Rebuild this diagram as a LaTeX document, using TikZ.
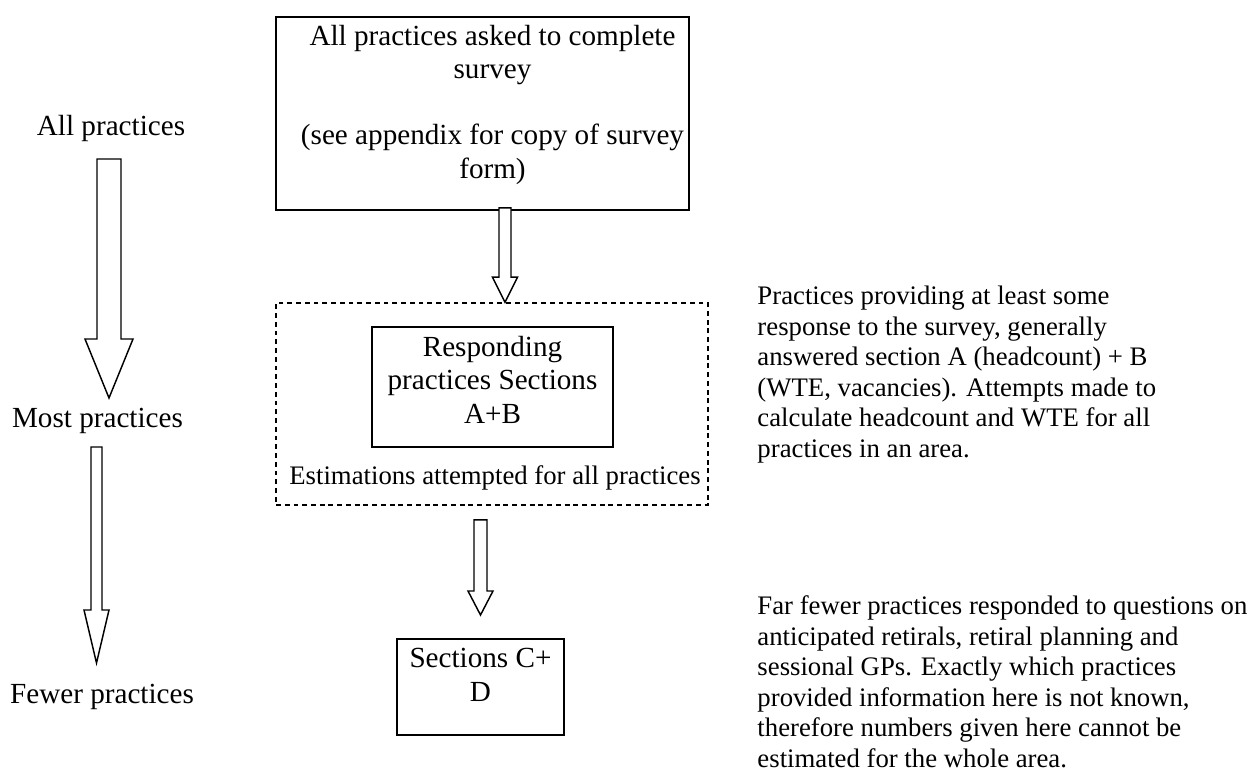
\documentclass[tikz,border=0pt]{standalone}
\usepackage{fontspec}
\setmainfont{Liberation Serif}
\usetikzlibrary{calc}
\tikzset{
  boxline/.style={draw, line width=0.8pt, inner sep=0pt},
  dashline/.style={draw, line width=0.7pt, dash pattern=on 2pt off 1.6pt, inner sep=0pt},
  sz/.style 2 args={minimum width=#1*0.4115pt, minimum height=#2*0.4115pt},
  boxtext/.style={inner sep=0pt, align=center, font=\fontsize{12}{13.6}\selectfont},
  notetext/.style={inner sep=0pt, align=left, font=\fontsize{11}{12.55}\selectfont},
  sidelabel/.style={inner sep=0pt, font=\fontsize{12}{13.6}\selectfont},
  blockarr/.style={draw, line width=0.6pt, fill=white, line join=miter},
}
% #1 start coordinate, #2 tip node/coordinate, #3 shaft half width, #4 head half width, #5 head length (px)
\newcommand\blockarrow[5]{%
  \draw[blockarr] ($(#1)+(-#3,0)$) -- ($(#1|-#2)+(-#3,-#5)$) -- ($(#1|-#2)+(-#4,-#5)$)
    -- (#1|-#2) -- ($(#1|-#2)+(#4,-#5)$) -- ($(#1|-#2)+(#3,-#5)$) -- ($(#1)+(#3,0)$) -- cycle;}
\begin{document}
\begin{tikzpicture}[x=0.4115pt, y=-0.4115pt]
\useasboundingbox (0,0) rectangle (1247,769);

% boxes
\node[boxline, sz={413}{193}] (top) at (482.5,113.5) {};
\node[boxtext, anchor=base] (toptext) at (492.5,178)
  {All practices asked to complete\\survey\\[13.6pt](see appendix for copy of survey\\form)};

\node[dashline, sz={432}{202}] (dashed) at (492,404) {};
\node[boxline, line width=0.7pt, sz={241}{120}] (inner) at (492.5,387) {};
\node[boxtext, anchor=base] (innertext) at (492.5,423)
  {Responding\\practices Sections\\A+B};
\node[boxtext, font=\fontsize{11}{12.55}\selectfont, anchor=base] (estim) at (495,484)
  {Estimations attempted for all practices};

\node[boxline, sz={167}{96}] (bottom) at (480.5,687) {};
\node[boxtext, anchor=base] (bottomtext) at (480.5,701) {Sections C+\\D};

% side labels
\node[sidelabel, anchor=base] (allp) at (111,135) {All practices};
\node[sidelabel, anchor=base] (mostp) at (97.5,427) {Most practices};
\node[sidelabel, anchor=base] (fewerp) at (102,703) {Fewer practices};

% notes
\node[notetext, anchor=base west] (note1) at (757,457)
  {Practices providing at least some\\response to the survey, generally\\answered section A (headcount) + B\\(WTE, vacancies).  Attempts made to\\calculate headcount and WTE for all\\practices in an area.};
\node[notetext, anchor=base west] (note2) at (757,767)
  {Far fewer practices responded to questions on\\anticipated retirals, retiral planning and\\sessional GPs.  Exactly which practices\\provided information here is not known,\\therefore numbers given here cannot be\\estimated for the whole area.};

% connector coordinates
\coordinate (la1s) at ($(allp.base)+(-2,24)$);
\coordinate (la1t) at (109,398);
\coordinate (la2s) at ($(mostp.base)+(-1,20)$);
\coordinate (la2t) at (96.5,663);
\coordinate (a1s) at ($(top.south)+(22.5,-3)$);
\coordinate (a2s) at ($(dashed.south)+(-11.5,14)$);
\coordinate (a2t) at (480.5,615);

% block arrows
\blockarrow{la1s}{la1t}{12}{24}{59}
\blockarrow{la2s}{la2t}{5.5}{12.5}{53}
\blockarrow{a1s}{dashed.north}{6}{12.5}{25}
\blockarrow{a2s}{a2t}{6.5}{12.5}{24}
\end{tikzpicture}
\end{document}
